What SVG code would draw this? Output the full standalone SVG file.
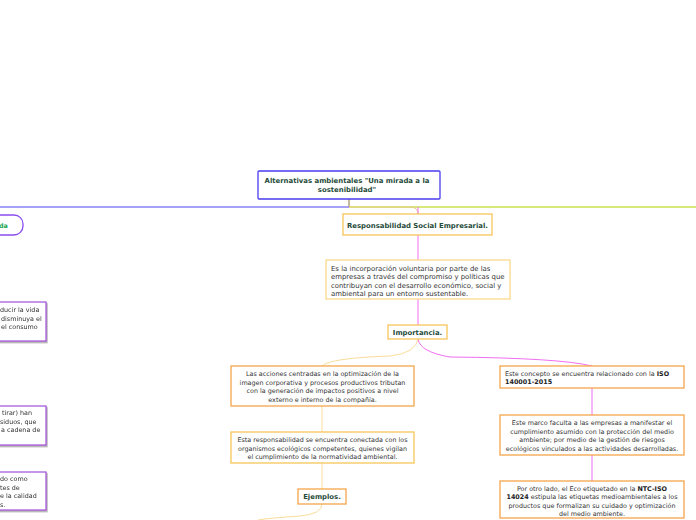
<svg xmlns="http://www.w3.org/2000/svg" width="696" height="520" viewBox="0 0 696 520">
<style>
text{font-family:"DejaVu Sans","Verdana",sans-serif;font-size:6.4px;fill:#333}
.b{font-weight:bold;fill:#1f4b3a;font-size:6.9px}
.t{font-weight:bold}
.d{font-size:6.9px}
.box{fill:#fff}
.o1{stroke:#f8c55a;stroke-width:1.3}
.o2{stroke:#f5a54a;stroke-width:1.3}
.o3{stroke:#f9d98c;stroke-width:1.3}
.pp{stroke:#a24fd8;stroke-width:1.2}
.c{fill:none}
</style>
<defs>
<filter id="sh" x="-10%" y="-10%" width="130%" height="140%"><feDropShadow dx="1" dy="1.5" stdDeviation="0.6" flood-color="#000" flood-opacity="0.35"/></filter>
</defs>
<g id="connectors" class="c">
<path d="M349 199V207" stroke="#a89068" stroke-width="1.3"/>
<path d="M0 207H349" stroke="#8a80f4" stroke-width="1.3"/>
<path d="M349 207H696" stroke="#c9e24c" stroke-width="1.3"/>
<path d="M349 207H410Q418 207 418 214" stroke="#e8c98e" stroke-width="1"/>
<path d="M418 207V214M418 235V260M418 299V325" stroke="#f06ef0" stroke-width="1"/>
<path d="M418 339Q420 352 450 357Q560 358 592 366" stroke="#f06ef0" stroke-width="1"/>
<path d="M418 339Q416 353 390 356Q330 358 322 366" stroke="#fbdc9a" stroke-width="1"/>
<path d="M592 388V415M592 455V481" stroke="#f06ef0" stroke-width="1"/>
<path d="M322 406V432M322 463V489" stroke="#fbdc9a" stroke-width="1"/>
<path d="M322 504Q322 514 300 516Q270 518 258 520" stroke="#fbdc9a" stroke-width="1"/>
</g>
<g id="root">
<rect x="258" y="171" width="182" height="28" rx="1" class="box" stroke="#4a3cf0" stroke-width="1.3"/>
<text x="347" y="183" text-anchor="middle" class="b">Alternativas ambientales "Una mirada a la</text>
<text x="347" y="191.5" text-anchor="middle" class="b">sostenibilidad"</text>
</g>
<g id="left-main">
<rect x="-20" y="215" width="43" height="20" rx="9" class="box" stroke="#8a4cf0" stroke-width="1.3"/>
<text x="-1" y="228" class="t" style="fill:#1aa551">da</text>
</g>
<g id="left1" filter="url(#sh)">
<rect x="-20" y="302" width="66" height="39" class="box pp"/>
<text x="0" y="312">ducir la vida</text>
<text x="1" y="320.5">disminuya el</text>
<text x="1" y="329">el consumo</text>
</g>
<g id="left2" filter="url(#sh)">
<rect x="-20" y="406" width="66" height="39" class="box pp"/>
<text x="2" y="415">tirar) han</text>
<text x="0" y="423.5">siduos, que</text>
<text x="1" y="432">a cadena de</text>
</g>
<g id="left3" filter="url(#sh)">
<rect x="-20" y="472" width="66" height="38" class="box pp"/>
<text x="0" y="481">do como</text>
<text x="0" y="489.5">tes de</text>
<text x="0" y="498">e la calidad</text>
<text x="0" y="506.5">s.</text>
</g>
<g id="rse">
<rect x="343" y="214" width="149" height="21" class="box o1"/>
<text x="417.5" y="227.5" text-anchor="middle" class="b">Responsabilidad Social Empresarial.</text>
</g>
<g id="definicion">
<rect x="326" y="260" width="184" height="39" class="box o3"/>
<text x="331" y="270.5" class="d">Es la incorporación voluntaria por parte de las</text>
<text x="331" y="279" class="d">empresas a través del compromiso y políticas que</text>
<text x="331" y="287.5" class="d">contribuyan con el desarrollo económico, social y</text>
<text x="331" y="296" class="d">ambiental para un entorno sustentable.</text>
</g>
<g id="importancia">
<rect x="388" y="325" width="59" height="14" class="box o1"/>
<text x="417.5" y="334.5" text-anchor="middle" class="b">Importancia.</text>
</g>
<g id="acciones">
<rect x="231" y="366" width="183" height="40" class="box o2"/>
<text x="322.5" y="376" text-anchor="middle">Las acciones centradas en la optimización de la</text>
<text x="322.5" y="384.5" text-anchor="middle">imagen corporativa y procesos productivos tributan</text>
<text x="322.5" y="393" text-anchor="middle">con la generación de impactos positivos a nivel</text>
<text x="322.5" y="401.5" text-anchor="middle">externo e interno de la compañía.</text>
</g>
<g id="organismos">
<rect x="231" y="432" width="183" height="31" class="box o1"/>
<text x="322.5" y="442" text-anchor="middle">Esta responsabilidad se encuentra conectada con los</text>
<text x="322.5" y="450.5" text-anchor="middle">organismos ecológicos competentes, quienes vigilan</text>
<text x="322.5" y="459" text-anchor="middle">el cumplimiento de la normatividad ambiental.</text>
</g>
<g id="ejemplos">
<rect x="298" y="489" width="48" height="15" class="box o2"/>
<text x="322" y="499" text-anchor="middle" class="b">Ejemplos.</text>
</g>
<g id="iso">
<rect x="500" y="366" width="184" height="22" class="box o2"/>
<text x="505" y="375.5">Este concepto se encuentra relacionado con la <tspan class="t" style="fill:#222">ISO</tspan></text>
<text x="505" y="384" class="t" style="fill:#222">140001-2015</text>
</g>
<g id="marco">
<rect x="500" y="415" width="184" height="40" class="box o2"/>
<text x="592" y="425" text-anchor="middle">Este marco faculta a las empresas a manifestar el</text>
<text x="592" y="433.5" text-anchor="middle">cumplimiento asumido con la protección del medio</text>
<text x="592" y="442" text-anchor="middle">ambiente; por medio de la gestión de riesgos</text>
<text x="592" y="450.5" text-anchor="middle">ecológicos vinculados a las actividades desarrolladas.</text>
</g>
<g id="ntc">
<rect x="500" y="481" width="184" height="37" class="box o2"/>
<text x="592" y="490.5" text-anchor="middle">Por otro lado, el Eco etiquetado en la <tspan class="t" style="fill:#222">NTC-ISO</tspan></text>
<text x="592" y="499" text-anchor="middle"><tspan class="t" style="fill:#222">14024</tspan> estipula las etiquetas medioambientales a los</text>
<text x="592" y="507.5" text-anchor="middle">productos que formalizan su cuidado y optimización</text>
<text x="592" y="516" text-anchor="middle">del medio ambiente.</text>
</g>
</svg>
